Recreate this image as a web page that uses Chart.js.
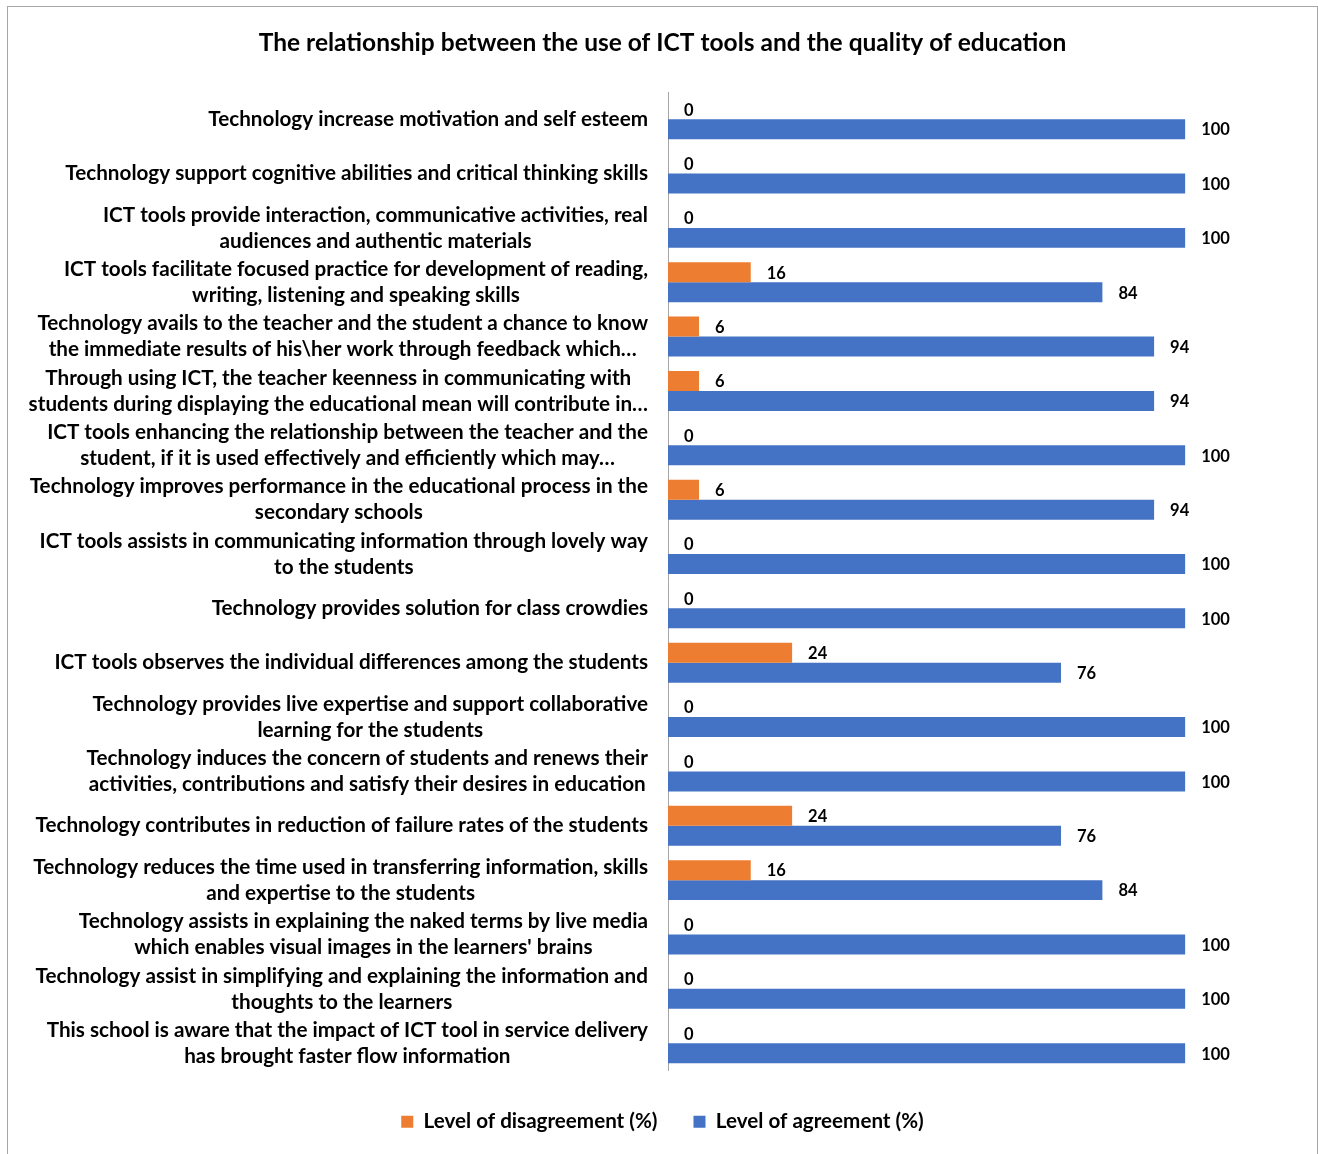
<!DOCTYPE html>
<html>
<head>
<meta charset="utf-8">
<script src="https://cdn.jsdelivr.net/npm/chart.js@4.4.1/dist/chart.umd.min.js"></script>
<style>
  html, body { margin: 0; padding: 0; background: #fff; }
  .frame {
    position: absolute; left: 7px; top: 6px;
    width: 1311px; height: 1149px;
    box-sizing: border-box; border: 1px solid #a6a6a6;
  }
  canvas { display: block; }
</style>
</head>
<body>
<div class="frame"><canvas id="chart" width="1309" height="1147"></canvas></div>
<script>
const titleText = 'The relationship between the use of ICT tools and the quality of education';

const categories = [
    'Technology increase motivation and self esteem',
    'Technology support cognitive abilities and critical thinking skills',
    ['ICT tools provide interaction, communicative activities, real', 'audiences and authentic materials'],
    ['ICT tools facilitate focused practice for development of reading,', 'writing, listening and speaking skills'],
    ['Technology avails to the teacher and the student a chance to know', 'the immediate results of his\\her work through feedback which…'],
    ['Through using ICT, the teacher keenness in communicating with', 'students during displaying the educational mean will contribute in…'],
    ['ICT tools enhancing the relationship between the teacher and the', 'student, if it is used effectively and efficiently which may…'],
    ['Technology improves performance in the educational process in the', 'secondary schools'],
    ['ICT tools assists in communicating information through lovely way', 'to the students'],
    'Technology provides solution for class crowdies',
    'ICT tools observes the individual differences among the students',
    ['Technology provides live expertise and support collaborative', 'learning for the students'],
    ['Technology induces the concern of students and renews their', 'activities, contributions and satisfy their desires in education'],
    'Technology contributes in reduction of failure rates of the students',
    ['Technology reduces the time used in transferring information, skills', 'and expertise to the students'],
    ['Technology assists in explaining the naked terms by live media', 'which enables visual images in the learners\' brains'],
    ['Technology assist in simplifying and explaining the information and', 'thoughts to the learners'],
    ['This school is aware that the impact of ICT tool in service delivery', 'has brought faster flow information']
];

const disagreement = [0, 0, 0, 16, 6, 6, 0, 6, 0, 0, 24, 0, 0, 24, 16, 0, 0, 0];
const agreement = [100, 100, 100, 84, 94, 94, 100, 94, 100, 100, 76, 100, 100, 76, 84, 100, 100, 100];

const seriesNames = ['Level of disagreement (%)', 'Level of agreement (%)'];

// Lato stands in for Calibri; scale sizes so text widths match the picture
const measureCtx = document.createElement('canvas').getContext('2d');
function fitSize(text, targetWidth) {
    measureCtx.font = 'bold 20px Lato';
    return 20 * targetWidth / measureCtx.measureText(text).width;
}
const labelSize = fitSize('Technology contributes in reduction of failure rates of the students', 613);
const titleSize = fitSize(titleText, 808);
const legendSize = fitSize(seriesNames[0], 234);
const valueSize = 16.5;
const titlePadTop = 36 - 0.6 * titleSize;
const titlePadBottom = 85 - titlePadTop - 1.2 * titleSize;

// Category labels: block right-aligned next to the axis, lines centered
const categoryLabels = {
    id: 'categoryLabels',
    afterDraw(chart) {
        const { ctx, scales: { y } } = chart;
        ctx.save();
        ctx.font = `bold ${labelSize}px Lato`;
        ctx.fillStyle = '#000';
        ctx.textAlign = 'center';
        ctx.textBaseline = 'middle';
        categories.forEach((label, i) => {
            const lines = Array.isArray(label) ? label : [label];
            const w = Math.max(...lines.map(l => ctx.measureText(l).width));
            const cx = y.right - 20 - w / 2;
            const cy = y.getPixelForValue(i);
            lines.forEach((l, j) => {
                ctx.fillText(l, cx, cy + (j - (lines.length - 1) / 2) * 26);
            });
        });
        ctx.restore();
    }
};

// Value labels at the end of each bar
const valueLabels = {
    id: 'valueLabels',
    afterDatasetsDraw(chart) {
        const { ctx } = chart;
        ctx.save();
        ctx.font = `bold ${valueSize}px Lato`;
        ctx.fillStyle = '#000';
        ctx.textAlign = 'left';
        ctx.textBaseline = 'middle';
        chart.data.datasets.forEach((ds, di) => {
            chart.getDatasetMeta(di).data.forEach((bar, i) => {
                ctx.fillText(String(ds.data[i]), bar.x + 16, bar.y + 1);
            });
        });
        ctx.restore();
    }
};

new Chart(document.getElementById('chart'), {
    type: 'bar',
    data: {
        labels: categories,
        datasets: [
            {
                label: seriesNames[0],
                data: disagreement,
                backgroundColor: '#ED7D31'
            },
            {
                label: seriesNames[1],
                data: agreement,
                backgroundColor: '#4472C4'
            }
        ]
    },
    options: {
        responsive: false,
        animation: false,
        indexAxis: 'y',
        datasets: {
            bar: { categoryPercentage: 0.735, barPercentage: 1 }
        },
        layout: { padding: { left: 0, right: 0, top: 0, bottom: 12 } },
        plugins: {
            title: {
                display: true,
                text: titleText,
                color: '#000',
                font: { family: 'Lato', weight: 'bold', size: titleSize },
                padding: { top: titlePadTop, bottom: titlePadBottom }
            },
            legend: {
                position: 'bottom',
                labels: {
                    color: '#000',
                    font: { family: 'Lato', weight: 'bold', size: legendSize },
                    boxWidth: 12,
                    boxHeight: 12,
                    padding: 36
                }
            },
            tooltip: { enabled: false }
        },
        scales: {
            x: {
                min: 0,
                max: 125.5,
                grid: { display: false },
                border: { display: false },
                ticks: { display: false },
                afterFit(scale) { scale.height = 5; }
            },
            y: {
                grid: { display: false },
                border: { display: true, color: '#a6a6a6' },
                ticks: { display: false },
                afterFit(scale) { scale.width = 660; }
            }
        }
    },
    plugins: [categoryLabels, valueLabels]
});
</script>
</body>
</html>
